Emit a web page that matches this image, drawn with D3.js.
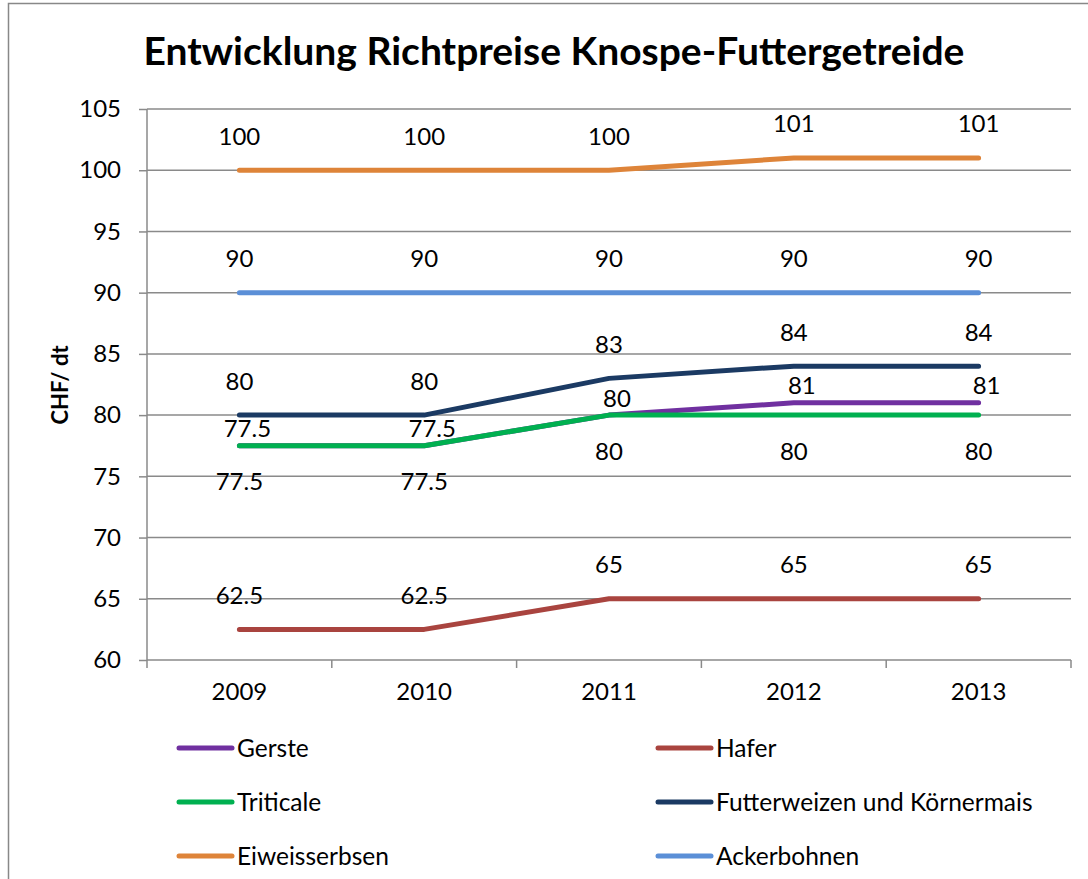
<!DOCTYPE html>
<html><head><meta charset="utf-8">
<script src="https://cdn.jsdelivr.net/npm/d3@7"></script>
<style>body{margin:0;background:#fff}svg{display:block}text{font-family:Lato,Carlito,"Open Sans",sans-serif}</style>
</head><body><svg id="c" width="1088" height="879"></svg>
<script>
const years = ["2009","2010","2011","2012","2013"];
const gerste = [77.5,77.5,80,81,81];
const hafer = [62.5,62.5,65,65,65];
const triticale = [77.5,77.5,80,80,80];
const futterweizen = [80,80,83,84,84];
const eiweisserbsen = [100,100,100,101,101];
const ackerbohnen = [90,90,90,90,90];
const seriesNames = ["Gerste","Hafer","Triticale","Futterweizen und Körnermais","Eiweisserbsen","Ackerbohnen"];
const yTicks = [60,65,70,75,80,85,90,95,100,105];

const seriesValues = [gerste,hafer,triticale,futterweizen,eiweisserbsen,ackerbohnen];
const colors = ["#7030A0","#A9443F","#00B050","#1B3A63","#DE8439","#5B8FD7"];
// label offsets (style): dy relative to point, dx
const labelDy = [-17,-34,36,-34,-34,-34];
const labelDx = [8,0,0,0,0,0];

const svg = d3.select("#c");
const L=147, R=1071, T=109, B=660;
const x = d3.scaleBand().domain(years).range([L,R]);
const y = d3.scaleLinear().domain([60,105]).range([B,T]);

// outer border
svg.append("rect").attr("x",8.5).attr("y",3.5).attr("width",1085).attr("height",890)
  .attr("fill","none").attr("stroke","#888").attr("stroke-width",1.5);

svg.append("text").attr("x",554).attr("y",65).attr("text-anchor","middle")
  .attr("font-weight","bold").attr("font-size",39).attr("fill","#000")
  .text("Entwicklung Richtpreise Knospe-Futtergetreide");

// gridlines
svg.append("g").selectAll("line").data(yTicks.filter(t=>t>60)).join("line")
  .attr("x1",L).attr("x2",R).attr("y1",d=>y(d)).attr("y2",d=>y(d))
  .attr("stroke","#8a8a8a").attr("stroke-width",1.5);

// y axis
const ya = svg.append("g").attr("transform",`translate(${L},0)`)
  .call(d3.axisLeft(y).tickValues(yTicks).tickSize(8).tickPadding(18).tickFormat(d3.format("d")));
ya.selectAll("path,line").attr("stroke","#8a8a8a").attr("stroke-width",1.5);
ya.select(".domain").attr("d",`M-0,${T}V${B}`);
ya.selectAll("text").attr("font-size",24).attr("fill","#000").style("font-family","Lato");

// x axis
const xa = svg.append("g").attr("transform",`translate(0,${B})`)
  .call(d3.axisBottom(x).tickSize(0).tickPadding(23));
xa.select(".domain").attr("stroke","#8a8a8a").attr("stroke-width",1.5).attr("d",`M${L},0H${R}`);
xa.selectAll("text").attr("font-size",24).attr("fill","#000").style("font-family","Lato");
const bounds = years.map(d=>x(d)).concat([R]);
svg.append("g").selectAll("line").data(bounds).join("line")
  .attr("x1",d=>d).attr("x2",d=>d).attr("y1",B).attr("y2",B+8)
  .attr("stroke","#8a8a8a").attr("stroke-width",1.5);

svg.append("text").attr("transform","translate(68,385) rotate(-90)")
  .attr("text-anchor","middle").attr("font-weight","bold").attr("font-size",22).text("CHF/ dt");

const cx = d=>x(d)+x.bandwidth()/2;
const line = d3.line().x((d,i)=>cx(years[i])).y(d=>y(d));

seriesValues.forEach((vals,si)=>{
  svg.append("path").datum(vals).attr("d",line).attr("fill","none")
    .attr("stroke",colors[si]).attr("stroke-width",5).attr("stroke-linecap","round").attr("stroke-linejoin","round");
});
seriesValues.forEach((vals,si)=>{
  svg.append("g").selectAll("text").data(vals).join("text")
    .attr("x",(d,i)=>cx(years[i])+labelDx[si]).attr("y",d=>y(d)+labelDy[si])
    .attr("dy","0.35em").attr("text-anchor","middle").attr("font-size",24).attr("fill","#000")
    .text(d=>d);
});

// legend
const lgX=[177,656], lgY=[748,802,856];
seriesNames.forEach((n,i)=>{
  const col=i%2, row=Math.floor(i/2);
  const g=svg.append("g").attr("transform",`translate(${lgX[col]},${lgY[row]})`);
  g.append("line").attr("x1",2).attr("x2",55).attr("stroke",colors[i]).attr("stroke-width",5).attr("stroke-linecap","round");
  g.append("text").attr("x",60).attr("dy","0.35em").attr("font-size",24.5).text(n);
});
</script></body></html>
